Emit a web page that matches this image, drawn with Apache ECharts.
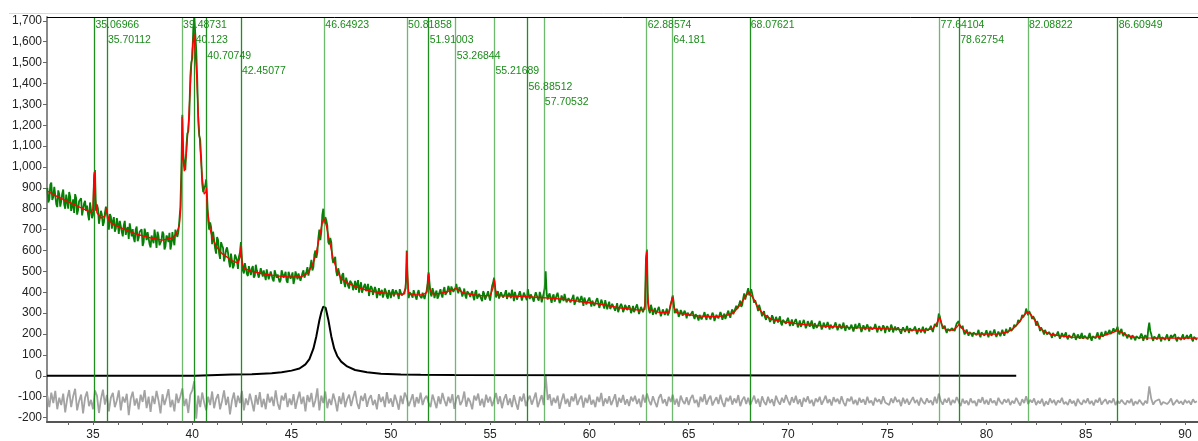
<!DOCTYPE html>
<html>
<head>
<meta charset="utf-8">
<script src="https://cdn.jsdelivr.net/npm/echarts/dist/echarts.min.js"></script>
<style>
  html, body { margin: 0; padding: 0; background: #fff; }
  #chart { width: 1198px; height: 441px; }
</style>
</head>
<body>
<div id="chart"></div>
<script>
// 2-theta grid of the measured scan
const scanStart = 32.7
const scanStep = 0.1

// observed intensity (green) on whole steps, one row per degree
const observed = [
  900, 845, 925,
  858, 898, 808, 870, 835, 892, 800, 861, 880, 790,
  845, 870, 772, 836, 850, 760, 838, 815, 745, 830,
  770, 985, 820, 728, 790, 718, 780, 815, 700, 762,
  740, 690, 755, 680, 735, 668, 742, 700, 655, 725,
  702, 640, 715, 660, 690, 622, 705, 650, 690, 615,
  680, 700, 612, 668, 628, 690, 605, 672, 640, 605,
  688, 625, 705, 690, 810, 1250, 1010, 1090, 1170, 1430,
  1520, 1715, 1560, 1220, 1130, 920, 900, 940, 745, 735,
  630, 690, 585, 650, 560, 625, 548, 602, 590, 520,
  585, 530, 572, 512, 590, 560, 490, 545, 478, 530,
  515, 470, 532, 488, 462, 520, 505, 458, 515, 470,
  500, 452, 510, 485, 448, 505, 470, 498, 445, 492,
  478, 440, 500, 462, 495, 450, 505, 470, 520, 485,
  555, 520, 600, 590, 700, 690, 800, 760, 720, 630,
  640, 540, 570, 478, 520, 440, 492, 425, 478, 418,
  462, 410, 455, 440, 398, 448, 392, 440, 418, 382,
  430, 388, 425, 372, 420, 402, 375, 418, 380, 410,
  372, 415, 385, 405, 368, 412, 378, 400, 600, 372,
  408, 375, 402, 365, 410, 382, 398, 368, 405, 495,
  395, 420, 372, 408, 380, 415, 375, 425, 392, 430,
  388, 435, 398, 440, 395, 428, 380, 418, 370, 412,
  378, 405, 362, 410, 375, 400, 358, 395, 372, 405,
  360, 430, 470, 375, 405, 362, 398, 370, 410, 365,
  395, 412, 358, 400, 372, 405, 360, 398, 375, 415,
  368, 392, 355, 400, 370, 402, 352, 395, 500, 365,
  395, 350, 390, 362, 398, 348, 385, 358, 392, 345,
  380, 355, 388, 340, 378, 352, 382, 335, 370, 345,
  375, 332, 368, 340, 372, 325, 365, 338, 362, 318,
  355, 330, 352, 312, 348, 320, 345, 305, 340, 315,
  338, 300, 335, 310, 342, 296, 330, 305, 335, 605,
  315, 340, 292, 325, 298, 330, 285, 318, 292, 322,
  300, 345, 385, 300, 320, 282, 315, 288, 312, 275,
  305, 280, 310, 272, 300, 265, 298, 278, 305, 268,
  295, 270, 302, 262, 292, 275, 305, 268, 298, 280,
  312, 278, 318, 290, 335, 312, 360, 340, 395, 372,
  420, 395, 412, 350, 370, 310, 335, 285, 310, 268,
  295, 258, 290, 250, 282, 255, 285, 242, 275, 250,
  278, 238, 270, 245, 272, 232, 265, 240, 268, 228,
  262, 235, 265, 225, 258, 238, 262, 222, 255, 230,
  258, 222, 252, 228, 256, 218, 248, 225, 255, 215,
  250, 222, 245, 212, 248, 226, 252, 210, 242, 220,
  246, 212, 240, 218, 248, 208, 238, 215, 242, 205,
  238, 212, 245, 208, 236, 215, 240, 202, 232, 210,
  238, 205, 232, 212, 236, 200, 228, 208, 235, 204,
  232, 212, 240, 210, 248, 235, 298, 262, 225, 240,
  205, 232, 210, 235, 215, 250, 262, 232, 240, 198,
  222, 192, 218, 188, 215, 195, 220, 185, 212, 192,
  218, 185, 215, 195, 222, 186, 212, 190, 220, 192,
  225, 198, 232, 210, 245, 228, 268, 248, 292, 275,
  322, 290, 318, 272, 290, 240, 258, 215, 238, 198,
  225, 190, 218, 182, 210, 188, 212, 178, 205, 185,
  208, 175, 202, 180, 205, 172, 198, 178, 205, 170,
  200, 175, 205, 168, 198, 180, 208, 175, 210, 182,
  215, 188, 220, 195, 228, 205, 235, 198, 225, 190,
  212, 180, 205, 175, 200, 170, 198, 178, 202, 168,
  195, 172, 255, 200, 168, 195, 175, 200, 165, 192,
  172, 198, 168, 195, 175, 200, 165, 192, 172, 198,
  168, 195, 175, 200, 165, 190, 172
]

// observed intensity on the half steps (32.75, 32.85, ...)
const observedMid = [
  830, 915, 842,
  905, 822, 888, 810, 872, 820, 868, 800, 858, 812,
  780, 852, 795, 840, 768, 825, 790, 772, 830, 755,
  940, 790, 800, 720, 770, 735, 810, 745, 775, 705,
  760, 705, 728, 742, 690, 720, 675, 712, 730, 668,
  660, 700, 645, 690, 702, 640, 682, 688, 630, 672,
  635, 660, 690, 625, 650, 680, 620, 662, 685, 630,
  650, 700, 665, 745, 980, 1060, 985, 1160, 1250, 1500,
  1660, 1640, 1420, 1150, 1040, 880, 910, 850, 700, 712,
  690, 610, 665, 588, 640, 612, 570, 615, 548, 585,
  515, 580, 555, 570, 640, 505, 540, 488, 525, 482,
  525, 480, 505, 470, 515, 475, 498, 510, 462, 500,
  462, 505, 470, 490, 458, 500, 482, 455, 498, 465,
  495, 462, 480, 490, 455, 492, 470, 500, 480, 525,
  505, 580, 565, 660, 650, 770, 730, 745, 640, 660,
  565, 555, 500, 515, 470, 482, 445, 470, 430, 455,
  440, 425, 412, 458, 425, 398, 430, 405, 440, 412,
  420, 392, 410, 395, 385, 412, 392, 405, 370, 398,
  400, 380, 410, 390, 415, 385, 395, 420, 450, 400,
  385, 410, 378, 398, 385, 372, 402, 392, 440, 445,
  380, 402, 395, 370, 400, 390, 410, 388, 405, 415,
  428, 402, 420, 410, 425, 402, 395, 385, 405, 392,
  395, 380, 400, 370, 392, 388, 405, 365, 390, 380,
  395, 445, 430, 395, 370, 400, 375, 395, 368, 398,
  372, 390, 402, 365, 390, 385, 368, 400, 362, 385,
  390, 370, 382, 395, 360, 385, 375, 420, 392, 385,
  368, 380, 355, 385, 372, 360, 378, 392, 352, 372,
  352, 375, 340, 368, 370, 345, 362, 375, 342, 365,
  355, 360, 335, 362, 350, 340, 352, 322, 355, 340,
  320, 345, 338, 328, 305, 335, 332, 318, 330, 310,
  325, 315, 305, 330, 320, 312, 325, 300, 560, 350,
  300, 322, 312, 295, 318, 308, 300, 312, 305, 290,
  320, 362, 350, 295, 310, 295, 305, 285, 298, 302,
  288, 300, 285, 295, 280, 292, 270, 290, 282, 295,
  280, 288, 292, 278, 285, 270, 292, 285, 272, 300,
  290, 305, 295, 322, 320, 345, 330, 372, 365, 402,
  385, 415, 372, 362, 330, 340, 305, 300, 280, 290,
  275, 268, 280, 262, 270, 272, 252, 268, 262, 248,
  262, 255, 240, 262, 255, 248, 235, 255, 250, 240,
  250, 242, 238, 252, 230, 248, 245, 232, 248, 242,
  240, 245, 228, 242, 238, 225, 245, 238, 230, 242,
  238, 228, 238, 230, 225, 240, 232, 222, 236, 235,
  230, 235, 222, 232, 230, 225, 232, 220, 232, 228,
  228, 222, 232, 225, 218, 232, 228, 220, 228, 222,
  222, 228, 215, 225, 222, 212, 225, 220, 215, 228,
  218, 228, 222, 232, 240, 262, 285, 245, 230, 218,
  225, 215, 228, 222, 235, 245, 240, 228, 215, 208,
  205, 210, 198, 208, 200, 205, 195, 208, 200, 205,
  200, 205, 192, 208, 202, 195, 208, 198, 205, 210,
  205, 218, 215, 228, 235, 248, 255, 272, 280, 298,
  305, 310, 290, 285, 268, 262, 235, 232, 212, 220,
  198, 210, 195, 205, 190, 200, 195, 188, 198, 192,
  185, 195, 188, 182, 195, 180, 190, 185, 178, 192,
  185, 192, 180, 190, 182, 195, 185, 195, 188, 198,
  195, 210, 200, 215, 212, 222, 210, 215, 202, 208,
  190, 198, 185, 195, 180, 190, 185, 180, 190, 185,
  185, 225, 215, 178, 188, 182, 188, 180, 185, 178,
  188, 178, 185, 182, 190, 175, 185, 180, 188, 175,
  185, 178, 190, 175, 186, 180
]

// difference curve (grey), whole steps
const difference = [
  -95, -150, -80,
  -130, -72, -160, -105, -140, -85, -175, -110, -68, -150,
  -98, -62, -165, -120, -90, -180, -105, -75, -145, -115,
  -160, -70, -95, -178, -112, -66, -138, -92, -170, -104,
  -82, -150, -118, -70, -165, -100, -128, -86, -188, -110,
  -76, -142, -108, -160, -90, -125, -68, -155, -100, -172,
  -96, -135, -72, -118, -180, -88, -140, -105, -64, -150,
  -115, -170, -85, -130, -98, -60, -145, -110, -178, -90,
  -70, -25, -205, -95, -150, -80, -128, -165, -100, -140,
  -75, -155, -110, -88, -160, -120, -70, -140, -100, -185,
  -118, -80, -150, -95, -130, -72, -165, -108, -140, -85,
  -125, -170, -92, -138, -78, -150, -110, -160, -86, -128,
  -100, -145, -70, -132, -162, -95, -118, -82, -150, -108,
  -140, -88, -158, -112, -76, -135, -100, -170, -92, -125,
  -82, -150, -118, -60, -165, -95, -130, -75, -155, -110,
  -140, -85, -120, -170, -98, -135, -80, -150, -112, -90,
  -145, -105, -72, -130, -158, -96, -120, -84, -148, -110,
  -92, -140, -115, -160, -88, -125, -100, -150, -78, -132,
  -108, -148, -90, -122, -162, -95, -135, -80, -105, -145,
  -118, -88, -150, -102, -132, -80, -140, -110, -95, -128,
  -150, -90, -120, -155, -98, -135, -82, -118, -145, -100,
  -130, -88, -158, -110, -92, -140, -120, -75, -148, -105,
  -125, -160, -95, -118, -85, -142, -110, -150, -90, -128,
  -100, -145, -115, -82, -135, -98, -155, -112, -88, -140,
  -108, -150, -92, -130, -162, -100, -122, -85, -145, -115,
  -95, -138, -110, -80, -150, -120, -92, -140, 5, -115,
  -88, -142, -105, -130, -95, -158, -118, -85, -135, -110,
  -148, -98, -122, -85, -140, -112, -95, -152, -105, -130,
  -90, -138, -115, -150, -100, -125, -82, -145, -108, -132,
  -98, -140, -115, -88, -150, -105, -128, -92, -138, -112,
  -145, -100, -122, -95, -135, -110, -150, -90, -128, -85,
  -118, -140, -98, -125, -150, -105, -88, -132, -112, -145,
  -100, -125, -90, -138, -110, -148, -95, -120, -135, -102,
  -140, -108, -92, -130, -115, -150, -100, -125, -88, -138,
  -112, -95, -142, -120, -102, -135, -90, -128, -148, -105,
  -122, -95, -138, -108, -130, -92, -145, -115, -100, -135,
  -105, -140, -118, -95, -132, -110, -148, -98, -125, -140,
  -100, -130, -112, -145, -95, -122, -138, -105, -128, -92,
  -118, -140, -102, -128, -95, -135, -112, -148, -105, -125,
  -98, -132, -115, -145, -108, -125, -100, -138, -118, -95,
  -130, -112, -142, -102, -125, -110, -135, -98, -128, -145,
  -108, -122, -100, -135, -115, -140, -105, -128, -112, -138,
  -100, -130, -118, -142, -105, -125, -112, -135, -98, -128,
  -120, -140, -108, -130, -100, -125, -115, -145, -105, -132,
  -110, -138, -120, -102, -130, -115, -142, -105, -125, -135,
  -108, -128, -118, -140, -100, -132, -85, -120, -138, -110,
  -128, -105, -140, -115, -130, -102, -122, -145, -110, -132,
  -118, -140, -108, -130, -120, -145, -112, -128, -102, -135,
  -115, -138, -108, -130, -118, -142, -105, -125, -135, -112,
  -128, -110, -140, -120, -132, -105, -125, -142, -112, -130,
  -98, -135, -115, -128, -108, -140, -120, -132, -110, -145,
  -122, -138, -108, -130, -115, -140, -118, -128, -105, -135,
  -125, -140, -112, -132, -120, -145, -110, -128, -138, -115,
  -130, -108, -135, -120, -142, -115, -128, -105, -138, -122,
  -112, -135, -118, -130, -108, -140, -120, -132, -115, -128,
  -138, -118, -130, -110, -142, -122, -135, -115, -128, -140,
  -120, -132, -50, -110, -138, -122, -130, -112, -140, -125,
  -118, -135, -125, -108, -140, -128, -115, -132, -122, -138,
  -115, -130, -120, -138, -112, -128, -122
]

// calculated profile (red) as [2theta, intensity]
const calculated = [
  [32.7, 885], [33.0, 868], [33.5, 845], [34.0, 822], [34.5, 800], [34.9, 783], [35.0, 800],
  [35.05, 960], [35.07, 975], [35.1, 860], [35.2, 780], [35.4, 755], [35.6, 765], [35.68, 800],
  [35.72, 795], [35.8, 745], [36.0, 725], [36.5, 705], [37.0, 685], [37.5, 670], [38.0, 658],
  [38.5, 650], [39.0, 660], [39.2, 680], [39.35, 720], [39.42, 800], [39.47, 1050], [39.49, 1240],
  [39.52, 1050], [39.6, 980], [39.7, 1060], [39.8, 1200], [39.9, 1380], [40.0, 1560], [40.08, 1640],
  [40.12, 1645], [40.2, 1480], [40.3, 1260], [40.4, 1080], [40.5, 950], [40.6, 870], [40.68, 880],
  [40.71, 900], [40.76, 800], [40.9, 700], [41.0, 665], [41.2, 620], [41.5, 585], [42.0, 552],
  [42.3, 540], [42.42, 570], [42.45, 620], [42.5, 545], [42.6, 515], [43.0, 500], [43.5, 490],
  [44.0, 482], [44.5, 476], [45.0, 473], [45.5, 475], [45.8, 490], [46.0, 520], [46.2, 570],
  [46.4, 660], [46.55, 735], [46.65, 752], [46.75, 720], [46.9, 650], [47.1, 560], [47.3, 500],
  [47.5, 465], [47.8, 445], [48.2, 428], [48.6, 415], [49.0, 405], [49.5, 398], [50.0, 394],
  [50.5, 391], [50.7, 392], [50.78, 480], [50.81, 598], [50.84, 480], [50.9, 395], [51.2, 389],
  [51.6, 388], [51.82, 400], [51.88, 480], [51.91, 490], [51.95, 420], [52.1, 392], [52.5, 395],
  [52.9, 405], [53.27, 418], [53.6, 400], [54.0, 390], [54.5, 384], [55.0, 384], [55.15, 420],
  [55.21, 462], [55.27, 410], [55.4, 384], [56.0, 382], [56.5, 381], [57.0, 378], [57.5, 375],
  [58.0, 372], [58.5, 368], [59.0, 363], [59.5, 356], [60.0, 350], [60.5, 344], [61.0, 335],
  [61.5, 326], [62.0, 320], [62.5, 315], [62.8, 318], [62.86, 560], [62.89, 595], [62.93, 400],
  [63.0, 320], [63.2, 310], [63.6, 303], [64.0, 305], [64.12, 350], [64.18, 378], [64.25, 330],
  [64.4, 302], [65.0, 292], [65.5, 287], [66.0, 284], [66.5, 283], [67.0, 292], [67.3, 305],
  [67.6, 340], [67.85, 380], [68.05, 400], [68.15, 398], [68.3, 365], [68.5, 325], [68.8, 292],
  [69.2, 270], [69.6, 262], [70.0, 256], [70.5, 249], [71.0, 244], [72.0, 237], [73.0, 232],
  [74.0, 228], [75.0, 225], [76.0, 220], [76.8, 218], [77.3, 225], [77.55, 260], [77.64, 282],
  [77.75, 245], [77.95, 222], [78.3, 218], [78.5, 232], [78.63, 248], [78.8, 225], [79.0, 206],
  [79.5, 201], [80.0, 200], [80.5, 200], [81.0, 208], [81.3, 222], [81.6, 250], [81.85, 285],
  [82.05, 305], [82.2, 298], [82.4, 270], [82.6, 240], [82.9, 213], [83.2, 200], [83.7, 191],
  [84.3, 185], [84.9, 182], [85.5, 185], [85.9, 193], [86.3, 205], [86.6, 216], [86.8, 208],
  [87.1, 193], [87.5, 184], [88.0, 182], [89.0, 181], [90.65, 181]
]

// single refined phase peak (black)
const component = [
  [32.68, 0], [40.15, 0], [40.2, 5], [42.0, 6], [43.0, 8], [44.0, 12], [44.5, 17], [45.0, 25],
  [45.4, 35], [45.7, 55], [45.9, 80], [46.1, 130], [46.25, 190], [46.4, 265], [46.5, 305],
  [46.6, 332], [46.65, 335], [46.72, 325], [46.85, 270], [47.0, 190], [47.15, 130], [47.3, 95],
  [47.5, 68], [47.8, 45], [48.2, 28], [48.8, 17], [49.5, 10], [50.5, 7], [51.5, 5], [53.2, 4],
  [53.3, 0], [81.5, 0]
]

// peak markers: position, label text, label row, faint line
const peakPos = [35.06966, 35.70112, 39.48731, 40.123, 40.70749, 42.45077, 46.64923, 50.81858,
  51.91003, 53.26844, 55.21689, 56.88512, 57.70532, 62.88574, 64.181, 68.07621, 77.64104,
  78.62754, 82.08822, 86.60949]
const peakText = ['35.06966', '35.70112', '39.48731', '40.123', '40.70749', '42.45077', '46.64923',
  '50.81858', '51.91003', '53.26844', '55.21689', '56.88512', '57.70532', '62.88574', '64.181',
  '68.07621', '77.64104', '78.62754', '82.08822', '86.60949']
const peakRow = [0, 1, 0, 1, 2, 3, 0, 0, 1, 2, 3, 4, 5, 0, 1, 0, 0, 1, 0, 0]
const peakFaint = [0, 0, 1, 0, 0, 0, 1, 1, 0, 1, 1, 0, 1, 1, 1, 0, 1, 0, 1, 0]

// axis ticks
const xLabels = [35, 40, 45, 50, 55, 60, 65, 70, 75, 80, 85, 90]
const xTicks = []
for (let t = 33.75; t <= 90.6; t += 1.25) xTicks.push(+t.toFixed(2))
const yLabels = []
for (let v = -200; v <= 1700; v += 100) yLabels.push(v)

const gridLeft = 47
const gridTop = 17

const chart = echarts.init(document.getElementById('chart'), null, {renderer: 'canvas'})

const onGrid = (arr, offset) => arr.map((v, i) => [+(scanStart + offset + i * scanStep).toFixed(2), v])

// merge whole and half steps into one sorted scan
const obsScan = []
observed.forEach((v, i) => {
  obsScan.push([+(scanStart + i * scanStep).toFixed(2), v])
  if (i < observedMid.length) obsScan.push([+(scanStart + 0.05 + i * scanStep).toFixed(2), observedMid[i]])
})

const option = {
  animation: false,
  backgroundColor: '#fff',
  textStyle: {fontFamily: 'Liberation Sans, Arial, sans-serif'},
  grid: {left: gridLeft, right: 0, top: gridTop, bottom: 18, containLabel: false},
  xAxis: {
    type: 'value',
    min: 32.683,
    max: 90.655,
    axisLine: {show: true, onZero: false, lineStyle: {color: '#555', width: 2}},
    axisTick: {show: true, customValues: xTicks, length: 3, lineStyle: {color: '#666'}},
    axisLabel: {customValues: xLabels, color: '#222', fontSize: 12, margin: 7},
    splitLine: {show: false}
  },
  yAxis: {
    type: 'value',
    min: -221,
    max: 1718,
    axisLine: {show: true, onZero: false, lineStyle: {color: '#8a8a8a', width: 2}},
    axisTick: {show: true, customValues: yLabels, length: 4, lineStyle: {color: '#666'}},
    axisLabel: {
      customValues: yLabels, color: '#222', fontSize: 12, margin: 5,
      formatter: v => v.toLocaleString('en-US')
    },
    splitLine: {show: false}
  },
  series: [
    {
      name: 'difference', type: 'line', data: onGrid(difference, 0), showSymbol: false,
      lineStyle: {color: '#a3a3a3', width: 1.8}, z: 2
    },
    {
      name: 'component', type: 'line', data: component, showSymbol: false,
      lineStyle: {color: '#000', width: 2}, z: 3
    },
    {
      name: 'observed', type: 'line', data: obsScan, showSymbol: false,
      lineStyle: {color: '#058005', width: 1.8}, z: 4
    },
    {
      name: 'calculated', type: 'line', data: calculated, showSymbol: false,
      lineStyle: {color: '#ff0000', width: 1.3}, z: 5,
      markLine: {
        silent: true, symbol: 'none', label: {show: false}, animation: false,
        data: peakPos.map((p, i) => ({
          xAxis: p,
          lineStyle: {type: 'solid', width: 1.3, color: peakFaint[i] ? 'rgba(50,155,50,0.7)' : 'rgba(20,135,20,0.95)'}
        }))
      }
    }
  ]
}
chart.setOption(option)

// peak labels placed through the x scale, staggered in rows
const labels = peakPos.map((p, i) => ({
  type: 'text',
  x: chart.convertToPixel({xAxisIndex: 0}, p) + 1,
  y: 25 + peakRow[i] * 15.5,
  style: {
    text: peakText[i], fill: '#1a8c1a', fontSize: 10.5,
    fontFamily: 'Liberation Sans, Arial, sans-serif', verticalAlign: 'middle'
  },
  z: 20
}))

chart.setOption({
  graphic: [
    {type: 'line', shape: {x1: 9, y1: 13.5, x2: 1198, y2: 13.5}, style: {stroke: '#f2ef2a', lineWidth: 1}, z: 20},
    {type: 'line', shape: {x1: gridLeft, y1: gridTop + 0.5, x2: 1198, y2: gridTop + 0.5}, style: {stroke: '#000', lineWidth: 1}, z: 20}
  ].concat(labels)
})
</script>
</body>
</html>
